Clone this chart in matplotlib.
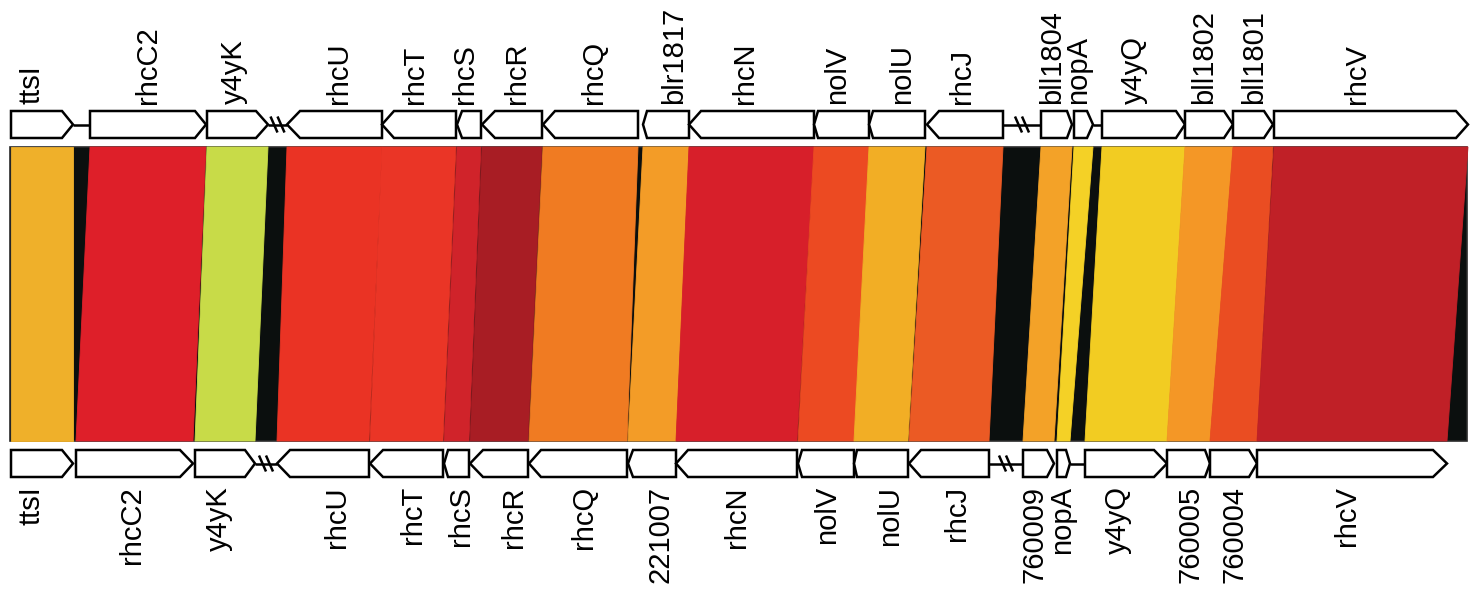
import matplotlib
matplotlib.use("Agg")
import matplotlib.pyplot as plt
from matplotlib.patches import Polygon, Rectangle

# ---------------- data ----------------
top_names = ['ttsI', 'rhcC2', 'y4yK', 'rhcU', 'rhcT', 'rhcS', 'rhcR', 'rhcQ', 'blr1817', 'rhcN',
             'nolV', 'nolU', 'rhcJ', 'bll1804', 'nopA', 'y4yQ', 'bll1802', 'bll1801', 'rhcV']
top_start = [11, 90, 207, 287, 382, 457, 482, 543, 643, 689, 814, 869, 927, 1041, 1074, 1102, 1185, 1233, 1274]
top_end = [73, 206, 268, 382, 456, 481, 542, 638, 689, 814, 869, 925, 1003, 1072, 1093, 1185, 1233, 1273, 1468]
top_strand = [1, 1, 1, -1, -1, -1, -1, -1, -1, -1, -1, -1, -1, 1, 1, 1, 1, 1, 1]

bot_names = ['ttsI', 'rhcC2', 'y4yK', 'rhcU', 'rhcT', 'rhcS', 'rhcR', 'rhcQ', '221007', 'rhcN',
             'nolV', 'nolU', 'rhcJ', '760009', 'nopA', 'y4yQ', '760005', '760004', 'rhcV']
bot_start = [11, 76, 195, 277, 370, 444, 470, 529, 628, 676, 798, 854, 909, 1023, 1057, 1085, 1167, 1210, 1257]
bot_end = [73, 193, 255, 369, 443, 469, 528, 627, 676, 797, 854, 908, 989, 1054, 1070, 1167, 1210, 1257, 1447]
bot_strand = [1, 1, 1, -1, -1, -1, -1, -1, -1, -1, -1, -1, -1, 1, 1, 1, 1, 1, 1]

block_colors = ['#EFB02A', '#DE1F29', '#C8DB48', '#EA3324', '#EA3526', '#D0232A', '#A81D24',
                '#F07B22', '#F39C27', '#D71F2A', '#EC4A22', '#F2AE25', '#EB5A24', '#F3A228',
                '#F4D126', '#F2CC22', '#F49726', '#EA4D22', '#C02027']

# intergenic connector lines and sequence breaks
top_links = [(73, 90), (1093, 1102)]
bot_links = [(1070, 1085)]
top_breaks = [(268, 287), (1003, 1041)]
bot_breaks = [(255, 277), (989, 1023)]

# ---------------- styling ----------------
top_heads = [11, 11, 12, 13, 12, 5, 13, 12, 4, 12, 4, 4, 12, 5, 6, 9, 9, 9, 12]
bot_heads = [11, 13, 10, 13, 13, 4, 13, 12, 5, 12, 4, 3, 12, 7, 4, 13, 5, 8, 14]
top_label_base = [39, 156, 242, 347, 423, 473, 525, 602, 682, 753, 845, 910, 970, 1060, 1086, 1142, 1212, 1262, 1365]
bot_label_base = [39, 140, 227, 345, 421, 469, 522, 592, 668, 745, 835, 898, 965, 1043, 1070, 1126, 1199, 1243, 1355]

W, H = 1482, 590
TOP_Y0, TOP_Y1 = 111, 138
BOT_Y0, BOT_Y1 = 450, 477
BAND_Y0, BAND_Y1 = 147, 441
BAND_X0, BAND_X1 = 10, 1467
FONT = 'Liberation Sans'
FS = 21
LW = 1.8

fig = plt.figure(figsize=(W / 100, H / 100), dpi=100)
ax = fig.add_axes([0, 0, 1, 1])
ax.set_xlim(0, W)
ax.set_ylim(H, 0)
ax.axis('off')


def gene(s, e, strand, head, y0, y1):
    ym = (y0 + y1) / 2
    if strand > 0:
        pts = [(s, y0), (e - head, y0), (e, ym), (e - head, y1), (s, y1)]
    else:
        pts = [(e, y0), (s + head, y0), (s, ym), (s + head, y1), (e, y1)]
    ax.add_patch(Polygon(pts, closed=True, fc='white', ec='black', lw=LW,
                         joinstyle='miter', zorder=4))


def link(a, b, y0, y1):
    ym = (y0 + y1) / 2
    ax.plot([a, b], [ym, ym], color='black', lw=LW, zorder=3, solid_capstyle='butt')


def brk(a, b, y0, y1):
    ym = (y0 + y1) / 2
    link(a, b, y0, y1)
    c = (a + b) / 2
    for dx in (-3.5, 3.5):
        ax.plot([c + dx - 3.5, c + dx + 3.5], [ym - 8, ym + 8], color='black', lw=LW,
                zorder=5, solid_capstyle='butt')


# band background
ax.add_patch(Rectangle((BAND_X0, BAND_Y0), BAND_X1 - BAND_X0, BAND_Y1 - BAND_Y0,
                       fc='#0B0F0E', ec='#2a2a2a', lw=1.2, zorder=1))

# homology blocks
for ts, te, bs, be, col in zip(top_start, top_end, bot_start, bot_end, block_colors):
    ax.add_patch(Polygon([(ts, BAND_Y0), (te, BAND_Y0), (be, BAND_Y1), (bs, BAND_Y1)],
                         closed=True, fc=col, ec=col, lw=0.6, zorder=2))

# gene tracks
for a, b in top_links:
    link(a, b, TOP_Y0, TOP_Y1)
for a, b in bot_links:
    link(a, b, BOT_Y0, BOT_Y1)
for a, b in top_breaks:
    brk(a, b, TOP_Y0, TOP_Y1)
for a, b in bot_breaks:
    brk(a, b, BOT_Y0, BOT_Y1)

for s, e, st, hd in zip(top_start, top_end, top_strand, top_heads):
    gene(s, e, st, hd, TOP_Y0, TOP_Y1)
for s, e, st, hd in zip(bot_start, bot_end, bot_strand, bot_heads):
    gene(s, e, st, hd, BOT_Y0, BOT_Y1)

# labels
for name, x in zip(top_names, top_label_base):
    ax.text(x, TOP_Y0 - 7, name, rotation=90, rotation_mode='anchor', ha='left',
            va='baseline', fontsize=FS, family=FONT, color='black')
for name, x in zip(bot_names, bot_label_base):
    ax.text(x, BOT_Y1 + 9, name, rotation=90, rotation_mode='anchor', ha='right',
            va='baseline', fontsize=FS, family=FONT, color='black')

fig.savefig('out.png', dpi=100, facecolor='white')
